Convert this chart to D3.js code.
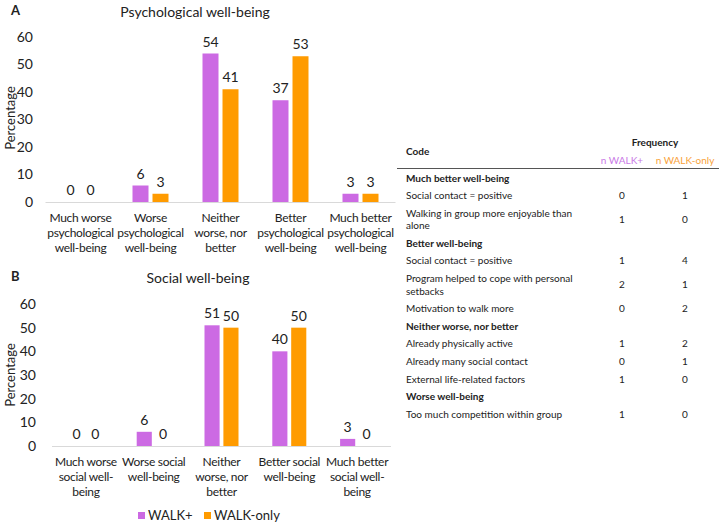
<!DOCTYPE html>
<html>
<head>
<meta charset="utf-8">
<script src="https://cdn.jsdelivr.net/npm/d3@7"></script>
<style>
body { margin: 0; background: #fff; }
text { font-family: Lato, "Open Sans", sans-serif; fill: #222; }
</style>
</head>
<body>
<script>
// series
var series = ["WALK+", "WALK-only"];
var seriesColors = ["#cc6ae3", "#ff9b00"];

// chart A: psychological well-being
var psychCategories = [
	["Much worse", "psychological", "well-being"],
	["Worse", "psychological", "well-being"],
	["Neither", "worse, nor", "better"],
	["Better", "psychological", "well-being"],
	["Much better", "psychological", "well-being"]
];
var psychWalkPlus = [0, 6, 54, 37, 3];
var psychWalkOnly = [0, 3, 41, 53, 3];

// chart B: social well-being
var socialCategories = [
	["Much worse", "social well-", "being"],
	["Worse social", "well-being"],
	["Neither", "worse, nor", "better"],
	["Better social", "well-being"],
	["Much better", "social well-", "being"]
];
var socialWalkPlus = [0, 6, 51, 40, 3];
var socialWalkOnly = [0, 0, 50, 50, 0];

var yTicks = [0, 10, 20, 30, 40, 50, 60];

// table
var tableHeader = ["Code", "Frequency", "n WALK+", "n WALK-only"];
var tableGroups = ["Much better well-being", "Better well-being", "Neither worse, nor better", "Worse well-being"];
var tableCodes = [
	[["Social contact = positive"], ["Walking in group more enjoyable than", "alone"]],
	[["Social contact = positive"], ["Program helped to cope with personal", "setbacks"], ["Motivation to walk more"]],
	[["Already physically active"], ["Already many social contact"], ["External life-related factors"]],
	[["Too much competition within group"]]
];
var tableWalkPlus = [[0, 1], [1, 2, 0], [1, 0, 1], [1]];
var tableWalkOnly = [[1, 0], [4, 1, 2], [2, 1, 0], [0]];

var svg = d3.select("body").append("svg")
	.attr("width", 721)
	.attr("height", 524);

svg.append("rect").attr("width", 721).attr("height", 524).attr("fill", "#fff");

function drawChart(conf) {
	var g = svg.append("g");
	var names = conf.categories.map(function(d, i) { return "c" + i; });
	var x0 = d3.scaleBand().domain(names).range([conf.left, conf.right]);
	var x1 = d3.scaleBand().domain(series).range([-conf.groupWidth / 2, conf.groupWidth / 2]).paddingInner(0.2);
	var y = d3.scaleLinear().domain([0, 60]).range([conf.bottom, conf.top]);

	// letter + title
	g.append("text").attr("x", 11).attr("y", conf.titleY - 2)
		.attr("font-size", "13px").attr("font-weight", "bold").text(conf.letter);
	g.append("text").attr("x", conf.titleX).attr("y", conf.titleY)
		.attr("font-size", "14px").attr("text-anchor", "middle").text(conf.title);

	// y axis, labels only
	var yAxis = d3.axisLeft(y).tickValues(yTicks).tickSize(0).tickPadding(0);
	var ya = g.append("g").attr("transform", "translate(" + conf.tickX + ",0)").call(yAxis);
	ya.select(".domain").remove();
	ya.selectAll("text").attr("font-size", "14px").attr("font-family", "Lato, sans-serif").attr("fill", "#222");

	g.append("text")
		.attr("transform", "translate(" + conf.yTitleX + "," + conf.yTitleY + ") rotate(-90)")
		.attr("text-anchor", "middle")
		.attr("dy", "0.35em")
		.attr("font-size", "13px")
		.text("Percentage");

	// baseline
	g.append("line")
		.attr("x1", conf.left).attr("x2", conf.right)
		.attr("y1", y(0) + 0.5).attr("y2", y(0) + 0.5)
		.attr("stroke", "#d9d9d9").attr("stroke-width", 1);

	var rows = conf.categories.map(function(c, i) {
		return { name: names[i], lines: c, values: [conf.a[i], conf.b[i]] };
	});

	var groups = g.selectAll(".grp").data(rows).enter().append("g")
		.attr("class", "grp")
		.attr("transform", function(d) { return "translate(" + (x0(d.name) + x0.bandwidth() / 2) + ",0)"; });

	var bars = groups.selectAll(".bar").data(function(d) {
		return d.values.map(function(v, k) { return { s: series[k], v: v, k: k }; });
	}).enter();

	bars.append("rect")
		.attr("class", "bar")
		.attr("x", function(d) { return x1(d.s); })
		.attr("width", x1.bandwidth())
		.attr("y", function(d) { return y(d.v); })
		.attr("height", function(d) { return y(0) - y(d.v); })
		.attr("fill", function(d) { return seriesColors[d.k]; });

	bars.append("text")
		.attr("x", function(d) { return x1(d.s) + x1.bandwidth() / 2; })
		.attr("y", function(d) { return y(d.v) - 7; })
		.attr("text-anchor", "middle")
		.attr("font-size", "14px")
		.text(function(d) { return d.v; });

	// category labels
	groups.append("text")
		.attr("text-anchor", "middle")
		.attr("font-size", "12px")
		.attr("letter-spacing", "-0.3px")
		.selectAll("tspan").data(function(d) { return d.lines; }).enter()
		.append("tspan")
		.attr("x", 0)
		.attr("y", function(d, i) { return conf.bottom + 20 + i * 15; })
		.text(function(d) { return d; });
}

drawChart({
	letter: "A", title: "Psychological well-being", titleX: 195, titleY: 17,
	categories: psychCategories, a: psychWalkPlus, b: psychWalkOnly,
	left: 45.5, right: 395.5, groupWidth: 36, top: 37, bottom: 202,
	tickX: 33, yTitleX: 10, yTitleY: 118
});

drawChart({
	letter: "B", title: "Social well-being", titleX: 198, titleY: 283,
	categories: socialCategories, a: socialWalkPlus, b: socialWalkOnly,
	left: 52, right: 391, groupWidth: 34, top: 304, bottom: 446,
	tickX: 36, yTitleX: 10, yTitleY: 375
});

// legend
var legend = svg.append("g").attr("transform", "translate(138,512)");
var li = legend.selectAll("g").data(series).enter().append("g")
	.attr("transform", function(d, i) { return "translate(" + (i * 66) + ",0)"; });
li.append("rect").attr("width", 7).attr("height", 7)
	.attr("fill", function(d, i) { return seriesColors[i]; });
li.append("text").attr("x", 10).attr("y", 8).attr("font-size", "13px").text(function(d) { return d; });

// table
var t = svg.append("g").attr("font-size", "10px");
var col1 = 622, col2 = 685;
t.append("text").attr("x", 406).attr("y", 155).attr("font-weight", "bold").text(tableHeader[0]);
t.append("text").attr("x", 655).attr("y", 146).attr("font-weight", "bold").attr("text-anchor", "middle").text(tableHeader[1]);
t.append("text").attr("x", col1).attr("y", 164).attr("text-anchor", "middle").style("fill", "#c97ae6").text(tableHeader[2]);
t.append("text").attr("x", col2).attr("y", 164).attr("text-anchor", "middle").style("fill", "#f9a23a").text(tableHeader[3]);
t.append("line").attr("x1", 397).attr("x2", 719).attr("y1", 168.5).attr("y2", 168.5)
	.attr("stroke", "#555").attr("stroke-width", 1);

var rowStep = 17.6, lineStep = 12.5;
var yy = 178;
tableGroups.forEach(function(grp, gi) {
	t.append("text").attr("x", 406).attr("y", yy + 3.5).attr("font-weight", "bold").text(grp);
	yy += rowStep;
	tableCodes[gi].forEach(function(lines, ri) {
		var tx = t.append("text").attr("x", 406);
		tx.selectAll("tspan").data(lines).enter().append("tspan")
			.attr("x", 406)
			.attr("y", function(d, i) { return yy + 3.5 + i * lineStep; })
			.text(function(d) { return d; });
		var mid = yy + (lines.length - 1) * lineStep / 2 + 3.5;
		t.append("text").attr("x", col1).attr("y", mid).attr("text-anchor", "middle").text(tableWalkPlus[gi][ri]);
		t.append("text").attr("x", col2).attr("y", mid).attr("text-anchor", "middle").text(tableWalkOnly[gi][ri]);
		yy += rowStep + (lines.length - 1) * lineStep;
	});
});
</script>
</body>
</html>
